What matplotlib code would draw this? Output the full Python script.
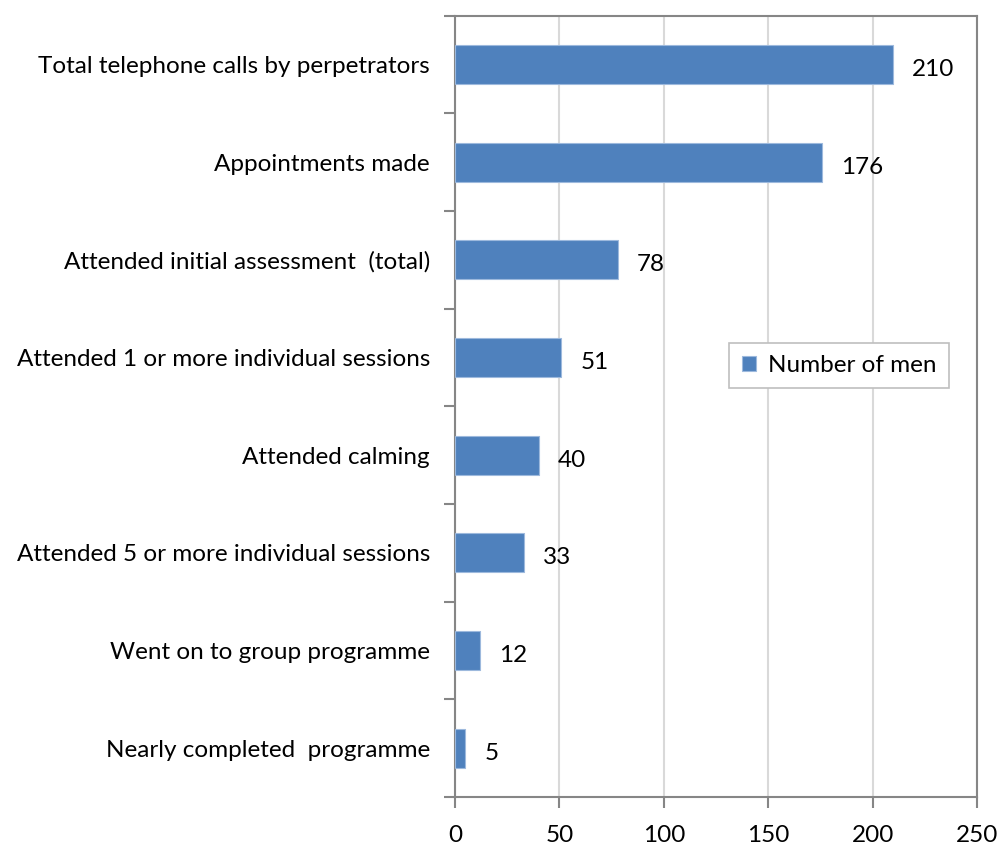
import numpy as np
import matplotlib
matplotlib.use('Agg')
import matplotlib.pyplot as plt

plt.rcParams['font.family'] = ['Lato', 'DejaVu Sans']

categories = [
    "Total telephone calls by perpetrators",
    "Appointments made",
    "Attended initial assessment  (total)",
    "Attended 1 or more individual sessions",
    "Attended calming",
    "Attended 5 or more individual sessions",
    "Went on to group programme",
    "Nearly completed  programme",
]
values = [210, 176, 78, 51, 40, 33, 12, 5]
xticks = [0, 50, 100, 150, 200, 250]

bar_color = '#4F81BD'
frame_color = '#868686'
fs = 17.5

fig = plt.figure(figsize=(10, 8.5), dpi=100)
ax = fig.add_axes([0.455, 0.0624, 0.522, 0.919])

y = np.arange(len(categories))
ax.barh(y, values, height=0.4, color=bar_color, edgecolor='#9DB9DD', linewidth=0.8,
        label='Number of men', zorder=3)

for yi, v in zip(y, values):
    ax.text(v + 9, yi + 0.05, str(v), va='center', ha='left', fontsize=fs, color='black')

ax.set_xlim(0, 250)
ax.set_ylim(len(categories) - 0.5, -0.5)
ax.set_xticks(xticks)
ax.set_xticklabels([str(t) for t in xticks], fontsize=fs)
ax.set_yticks(y)
ax.set_yticklabels(categories, fontsize=fs)
ax.set_yticks(np.arange(len(categories) + 1) - 0.5, minor=True)

ax.tick_params(axis='y', which='major', length=0, pad=18)
ax.tick_params(axis='y', which='minor', length=8, width=1.5, color=frame_color, direction='out')
ax.tick_params(axis='x', which='major', length=8, width=1.5, color=frame_color, direction='out', pad=12)

ax.grid(axis='x', color='#D9D9D9', linewidth=1.5, zorder=0)
for s in ax.spines.values():
    s.set_color(frame_color)
    s.set_linewidth(1.5)

leg = ax.legend(loc='center', bbox_to_anchor=(0.736, 0.552), fontsize=fs, frameon=True,
                fancybox=False, handlelength=0.6, handleheight=0.6, handletextpad=0.5,
                borderpad=0.5, borderaxespad=0)
leg.get_frame().set_edgecolor('#BFBFBF')
leg.get_frame().set_linewidth(1.2)
leg.get_frame().set_alpha(1)

fig.savefig('out.png', dpi=100)
